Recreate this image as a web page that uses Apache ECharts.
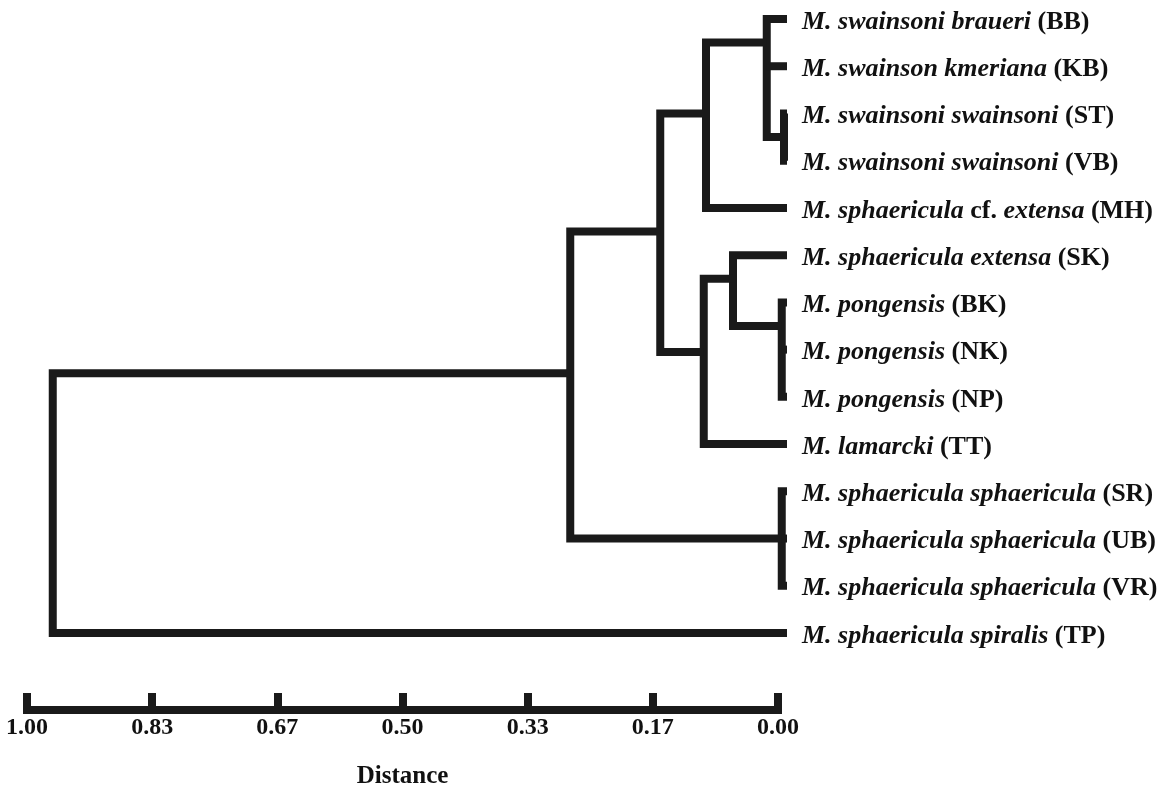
<!DOCTYPE html>
<html>
<head>
<meta charset="utf-8">
<title>Dendrogram</title>
<script src="https://cdn.jsdelivr.net/npm/echarts@6/dist/echarts.min.js"></script>
<style>
html, body { margin: 0; padding: 0; background: #fff; }
#chart { width: 1168px; height: 790px; }
</style>
</head>
<body>
<div id="chart"></div>
<script>
// leaves, top to bottom
var leafCodes = ['BB', 'KB', 'ST', 'VB', 'MH', 'SK', 'BK', 'NK', 'NP', 'TT', 'SR', 'UB', 'VR', 'TP'];
var leafNames = [
	'M. swainsoni braueri',
	'M. swainson kmeriana',
	'M. swainsoni swainsoni',
	'M. swainsoni swainsoni',
	'M. sphaericula cf. extensa',
	'M. sphaericula extensa',
	'M. pongensis',
	'M. pongensis',
	'M. pongensis',
	'M. lamarcki',
	'M. sphaericula sphaericula',
	'M. sphaericula sphaericula',
	'M. sphaericula sphaericula',
	'M. sphaericula spiralis'
];

// clusters: members, joining distance, row where the branch leaves the cluster
var nodeIds = ['n0', 'n1', 'n2', 'n3', 'n4', 'n5', 'n6', 'n7', 'n8', 'n9'];
var nodeChildren = [
	['ST', 'VB'],
	['BB', 'KB', 'n0'],
	['n1', 'MH'],
	['BK', 'NK', 'NP'],
	['SK', 'n3'],
	['n4', 'TT'],
	['n2', 'n5'],
	['SR', 'UB', 'VR'],
	['n6', 'n7'],
	['n8', 'TP']
];
var nodeDist = [0.004, 0.027, 0.108, 0.007, 0.072, 0.111, 0.169, 0.007, 0.289, 0.979];
var nodeRow = [2.5, 0.5, 2.0, 6.5, 5.5, 7.05, 4.5, 11, 7.5, 10.25];

// scale bar
var scaleLabels = ['1.00', '0.83', '0.67', '0.50', '0.33', '0.17', '0.00'];

var serif = 'Liberation Serif';
var ink = '#1a1a1a';

function place(id) {
	var i = leafCodes.indexOf(id);
	if (i >= 0) return [0, i];
	var j = nodeIds.indexOf(id);
	return [nodeDist[j], nodeRow[j]];
}

// one bracket per cluster
var links = [];
nodeIds.forEach(function(id, k) {
	var d = nodeDist[k];
	var kids = nodeChildren[k].map(place).sort(function(a, b) { return a[1] - b[1]; });
	var top = kids[0], bot = kids[kids.length - 1];
	links.push({ coords: [[top[0], top[1]], [d, top[1]], [d, bot[1]], [bot[0], bot[1]]] });
	for (var m = 1; m < kids.length - 1; m++) {
		links.push({ coords: [[d, kids[m][1]], [kids[m][0], kids[m][1]]] });
	}
});

function leafLabel(code) {
	var name = leafNames[leafCodes.indexOf(code)];
	var parts = name.split(' ');
	var out = [], run = [];
	parts.forEach(function(w) {
		if (w === 'cf.') {
			if (run.length) out.push('{i|' + run.join(' ') + '}');
			run = [];
			out.push('{b|cf.}');
		} else {
			run.push(w);
		}
	});
	if (run.length) out.push('{i|' + run.join(' ') + '}');
	return out.join('{b| }') + '{b| (' + code + ')}';
}

var chart = echarts.init(document.getElementById('chart'));
var option = {
	backgroundColor: '#ffffff',
	animation: false,
	grid: [
		{ left: 37, right: 381, top: 19, height: 614 },
		{ left: 27, right: 390, top: 700, height: 11 }
	],
	xAxis: [
		{
			gridIndex: 0, type: 'value', min: 0, max: 1, inverse: true, show: false
		},
		{
			gridIndex: 1, type: 'category', boundaryGap: false, data: scaleLabels,
			name: 'Distance', nameLocation: 'middle', nameGap: 54,
			nameTextStyle: { fontFamily: serif, fontWeight: 'bold', fontSize: 25, color: '#111' },
			axisLine: { lineStyle: { color: ink, width: 8, cap: 'square' } },
			axisTick: { inside: true, length: 17, alignWithLabel: true, lineStyle: { color: ink, width: 8 } },
			axisLabel: { interval: 0, margin: 6, fontFamily: serif, fontWeight: 'bold', fontSize: 24, color: '#111' },
			splitLine: { show: false }
		}
	],
	yAxis: [
		{
			gridIndex: 0, type: 'value', min: 0, max: 13, inverse: true, show: false
		},
		{
			gridIndex: 0, type: 'category', position: 'right', inverse: true, boundaryGap: false,
			data: leafCodes,
			axisLine: { show: false },
			axisTick: { show: false },
			splitLine: { show: false },
			axisLabel: {
				interval: 0, margin: 15, color: '#111', fontFamily: serif, fontSize: 26,
				padding: [6, 0, 0, 0],
				formatter: leafLabel,
				rich: {
					i: { fontFamily: serif, fontSize: 26, fontStyle: 'italic', fontWeight: 'bold', color: '#111' },
					b: { fontFamily: serif, fontSize: 26, fontWeight: 'bold', color: '#111' }
				}
			}
		},
		{
			gridIndex: 1, type: 'value', show: false
		}
	],
	series: [
		{
			type: 'lines',
			coordinateSystem: 'cartesian2d',
			xAxisIndex: 0,
			yAxisIndex: 0,
			polyline: true,
			silent: true,
			lineStyle: { color: ink, width: 8, opacity: 1, curveness: 0, join: 'miter', cap: 'butt' },
			data: links
		}
	]
};
chart.setOption(option);
</script>
</body>
</html>
